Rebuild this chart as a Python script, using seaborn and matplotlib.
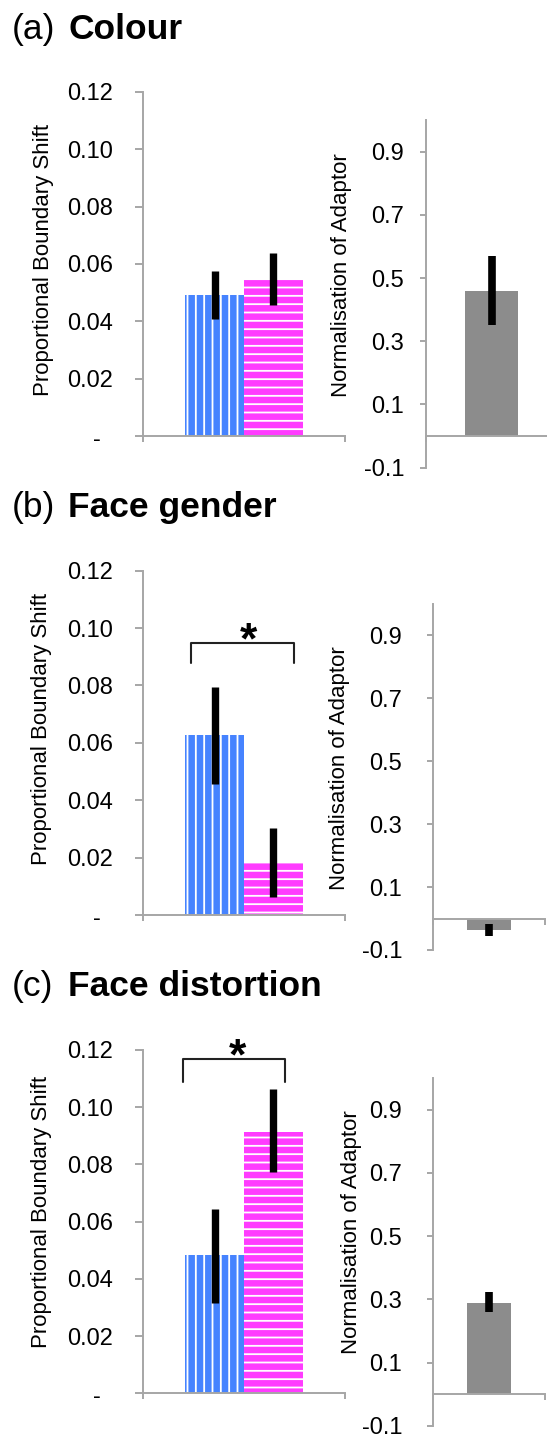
import numpy as np
import pandas as pd
import matplotlib
matplotlib.use("Agg")
import matplotlib.pyplot as plt
import seaborn as sns

# ---------------- data ----------------
panel_letters = ["(a)", "(b)", "(c)"]
panel_names = ["Colour", "Face gender", "Face distortion"]
conditions = ["blue", "pink"]

shift_means = [[0.0492, 0.0548], [0.0627, 0.0185], [0.0483, 0.0914]]
shift_low = [[0.0408, 0.0457], [0.0457, 0.0064], [0.0315, 0.0775]]
shift_high = [[0.0576, 0.0638], [0.0794, 0.0304], [0.0643, 0.1064]]

norm_means = [0.459, -0.036, 0.290]
norm_low = [0.350, -0.055, 0.259]
norm_high = [0.570, -0.017, 0.324]

significant = [False, True, True]

left_ticks = [0, 0.02, 0.04, 0.06, 0.08, 0.10, 0.12]
left_ticklabels = ["", "0.02", "0.04", "0.06", "0.08", "0.10", "0.12"]
right_ticks = [-0.1, 0.1, 0.3, 0.5, 0.7, 0.9]
right_ticklabels = ["-0.1", "0.1", "0.3", "0.5", "0.7", "0.9"]

left_ylabel = "Proportional Boundary Shift"
right_ylabel = "Normalisation of Adaptor"

# ---------------- style ----------------
BLUE = "#4683ff"
PINK = "#ff3cff"
GREY = "#8c8c8c"
AXC = "#a6a6a6"

sns.set_style("white")
plt.rcParams['font.family'] = ['Liberation Sans', 'DejaVu Sans']
plt.rcParams['hatch.linewidth'] = 1.3
plt.rcParams['hatch.color'] = 'white'
plt.rcParams['text.color'] = 'black'
plt.rcParams['axes.labelcolor'] = 'black'
plt.rcParams['xtick.color'] = 'black'
plt.rcParams['ytick.color'] = 'black'

W, H = 547, 1439
fig = plt.figure(figsize=(W / 100, H / 100), dpi=100)


def rect(x0, x1, y0, y1):
    return [x0 / W, 1 - y1 / H, (x1 - x0) / W, (y1 - y0) / H]


# layout in pixels
left_boxes = [(143, 345, 92, 436), (143, 345, 570.7, 915), (143, 345, 1050, 1393.3)]
right_boxes = [(425.7, 557.3, 120, 467.7), (432.7, 544.7, 604, 950), (432.7, 544.7, 1078, 1426)]
right_bar_width = [0.40, 0.395, 0.395]
left_ylabel_px = [(43.5, 260), (42, 728.5), (42, 1211.7)]
right_ylabel_px = [(341, 275), (340, 768.5), (352, 1232.5)]
title_baseline = [39, 517.3, 996]
right_pad = [11.3, 17.8, 17.8]
bracket_x = [None, (-0.262, 0.248), (-0.302, 0.203)]
bracket_y = [None, (0.0878, 0.0949), (0.1089, 0.1167)]
star_xy = [None, (0.02, 0.1004), (-0.03, 0.1224)]


def style_axis(ax):
    for s in ["top", "right"]:
        ax.spines[s].set_visible(False)
    for s in ["left", "bottom"]:
        ax.spines[s].set_visible(True)
        ax.spines[s].set_color(AXC)
        ax.spines[s].set_linewidth(1.4)


for i in range(3):
    # ---- title ----
    fig.text(12 / W, 1 - title_baseline[i] / H, panel_letters[i], fontsize=25.5, va="baseline",
             ha="left", color="black")
    fig.text(68 / W, 1 - title_baseline[i] / H, panel_names[i], fontsize=25.5, fontweight="bold",
             va="baseline", ha="left", color="black")

    # ---- left: boundary shift ----
    ax = fig.add_axes(rect(*left_boxes[i]))
    df = pd.DataFrame({"group": [""] * 2, "cond": conditions, "val": shift_means[i]})
    sns.barplot(data=df, x="group", y="val", hue="cond", hue_order=conditions,
                palette=dict(zip(conditions, [BLUE, PINK])), width=0.58, saturation=1,
                errorbar=None, legend=False, ax=ax)
    bars = [p for p in ax.patches]
    for p, h in zip(bars, ["||", "--"]):
        p.set_hatch(h)
        p.set_edgecolor("white")
        p.set_linewidth(0)
    centers = [p.get_x() + p.get_width() / 2 for p in bars]
    ax.vlines(centers, shift_low[i], shift_high[i], colors="black", linewidth=5.3, zorder=3)
    ax.set_xlim(-0.5, 0.5)
    ax.set_ylim(0, 0.12)
    ax.set_yticks(left_ticks)
    ax.set_yticklabels(left_ticklabels)
    ax.set_xticks([-0.5, 0.5])
    ax.set_xticklabels(["", ""])
    style_axis(ax)
    ax.tick_params(axis="y", left=True, direction="out", length=5.8, width=1.4, color=AXC,
                   pad=15.8, labelsize=17, labelcolor="black")
    ax.tick_params(axis="x", bottom=True, direction="out", length=4.5, width=1.4, color=AXC)
    ax.annotate("-", xy=(0, 0), xycoords="axes fraction", xytext=(-33.5, -2.9),
                textcoords="offset points", ha="center", va="center", fontsize=17, color="black")
    ax.set_xlabel("")
    ax.set_ylabel(left_ylabel, fontsize=16, va="center", color="black")
    lx, ly = left_ylabel_px[i]
    ax.yaxis.set_label_coords(lx / W, 1 - ly / H, transform=fig.transFigure)

    if significant[i]:
        x0, x1 = bracket_x[i]
        yb, yt = bracket_y[i]
        ax.plot([x0, x0, x1, x1], [yb, yt, yt, yb], color="#222222", linewidth=1.5,
                clip_on=False, zorder=4)
        sx, sy = star_xy[i]
        ax.annotate("*", xy=(sx, sy), xycoords="data", xytext=(0, -18.7),
                    textcoords="offset points", ha="center", va="baseline",
                    fontsize=32, fontweight="bold", annotation_clip=False, color="black")

    # ---- right: normalisation ----
    ax2 = fig.add_axes(rect(*right_boxes[i]))
    df2 = pd.DataFrame({"group": [""], "val": [norm_means[i]]})
    sns.barplot(data=df2, x="group", y="val", color=GREY, width=right_bar_width[i],
                saturation=1, errorbar=None, ax=ax2)
    for p in ax2.patches:
        p.set_linewidth(0)
    c2 = [p.get_x() + p.get_width() / 2 for p in ax2.patches]
    ax2.vlines(c2, [norm_low[i]], [norm_high[i]], colors="black", linewidth=5.5, zorder=3)
    ax2.set_xlim(-0.5, 0.5)
    ax2.set_ylim(-0.1, 1.0)
    ax2.set_yticks(right_ticks)
    ax2.set_yticklabels(right_ticklabels)
    ax2.set_xticks([-0.5, 0.5])
    ax2.set_xticklabels(["", ""])
    style_axis(ax2)
    ax2.spines["bottom"].set_position(("data", 0))
    ax2.tick_params(axis="y", left=True, direction="out", length=4.3, width=1.4, color=AXC,
                    pad=right_pad[i], labelsize=17, labelcolor="black")
    ax2.tick_params(axis="x", bottom=True, direction="out", length=4.5, width=1.4, color=AXC)
    ax2.set_xlabel("")
    ax2.set_ylabel(right_ylabel, fontsize=16, va="center", color="black")
    rx, ry = right_ylabel_px[i]
    ax2.yaxis.set_label_coords(rx / W, 1 - ry / H, transform=fig.transFigure)

fig.savefig("out.png", dpi=100)
